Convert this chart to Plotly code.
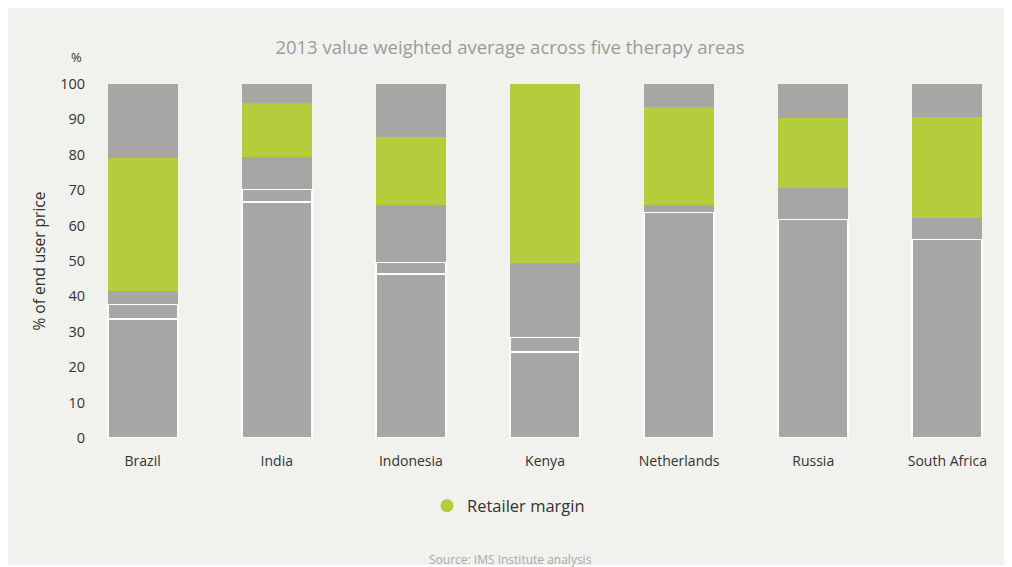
import plotly.graph_objects as go

countries = ["Brazil", "India", "Indonesia", "Kenya", "Netherlands", "Russia", "South Africa"]

# share of end user price, bottom to top (%)
manufacturer = [33.7, 66.7, 46.3, 24.3, 63.8, 61.9, 56.2]
importer = [4.2, 3.7, 3.5, 4.2, 0.0, 0.0, 0.0]
wholesaler = [3.5, 9.1, 16.0, 20.9, 2.1, 8.7, 5.9]
retailer = [37.6, 15.1, 19.2, 50.6, 27.7, 19.7, 28.6]
taxes = [21.0, 5.4, 15.0, 0.0, 6.4, 9.7, 9.3]

grey = "#a7a6a4"
green = "#b4cd3d"
panel = "#f1f1ed"
font = "Open Sans"
dark = "#333333"

fig = go.Figure()

# white outline on the two lowest segments gives the thin separator lines
segments = [
    ("Manufacturer", manufacturer, grey, 2),
    ("Importer", importer, grey, 2),
    ("Wholesaler", wholesaler, grey, 0),
    ("Retailer margin", retailer, green, 0),
    ("Taxes", taxes, grey, 0),
]
for name, vals, col, lw in segments:
    fig.add_trace(go.Bar(
        x=countries,
        y=vals,
        name=name,
        marker=dict(color=col, line=dict(color="white", width=lw)),
        showlegend=False,
    ))

# legend entry with round marker
fig.add_trace(go.Scatter(
    x=[None], y=[None],
    mode="markers",
    name="Retailer margin",
    marker=dict(color=green, size=13, symbol="circle"),
))

fig.update_layout(
    barmode="stack",
    bargap=0.48,
    width=1004,
    height=559,
    paper_bgcolor="white",
    plot_bgcolor=panel,
    margin=dict(l=81, r=11, t=76, b=129),
    font=dict(family=font, color=dark),
    title=dict(
        text="2013 value weighted average across five therapy areas",
        x=0.5, xanchor="center",
        y=0.930, yanchor="middle",
        font=dict(size=18.5, color="#9b9b9b"),
    ),
    xaxis=dict(
        range=[-0.4, 6.4],
        showgrid=False, zeroline=False, showline=False,
        tickfont=dict(size=14, color=dark),
        ticks="", ticklabelstandoff=13,
    ),
    yaxis=dict(
        range=[0, 100],
        tickvals=list(range(0, 101, 10)),
        showgrid=False, zeroline=False, showline=False,
        tickfont=dict(size=14.5, color=dark),
        ticks="", ticklabelstandoff=3,
        title=dict(text="% of end user price", font=dict(size=15.5, color=dark), standoff=10),
    ),
    legend=dict(
        orientation="h",
        x=0.46, xanchor="center",
        y=-0.192, yanchor="middle",
        font=dict(size=16.5, color=dark),
        bgcolor="rgba(0,0,0,0)",
    ),
    shapes=[dict(
        type="rect", xref="paper", yref="paper",
        x0=-0.09, x1=1.0055, y0=-0.3588, y1=1.22,
        fillcolor=panel, line=dict(width=0), layer="below",
    )],
    annotations=[
        dict(text="%", xref="paper", yref="paper", x=-0.0136, y=1.076,
             xanchor="center", yanchor="middle",
             showarrow=False, font=dict(size=13, color=dark)),
        dict(text="Source: IMS Institute analysis", xref="paper", yref="paper",
             x=0.462, y=-0.342, xanchor="center", yanchor="middle", showarrow=False,
             font=dict(size=12, color="#a8a8a8")),
    ],
)

fig.write_html("out.html")
